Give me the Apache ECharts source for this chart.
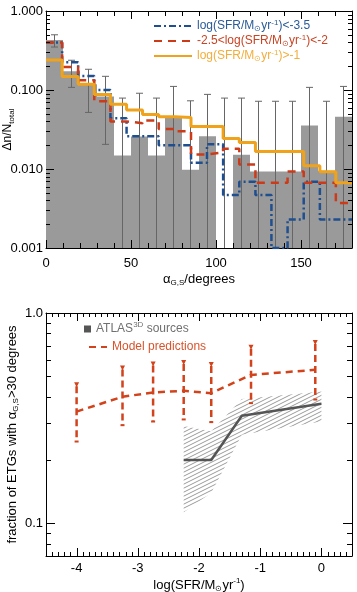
<!DOCTYPE html>
<html>
<head>
<meta charset="utf-8">
<script src="https://cdn.jsdelivr.net/npm/echarts@6/dist/echarts.min.js"></script>
<style>
html, body { margin: 0; padding: 0; background: #fff; }
#main { width: 357px; height: 592px; }
</style>
</head>
<body>
<div id="main"></div>
<script>
// ---- top panel: distribution of misalignment angle ----
var binStart = [0, 10, 20, 30, 40, 50, 60, 70, 80, 90, 100, 110, 120, 130, 140, 150, 160, 170];
var binWidth = 10;
var grayFrac = [0.43, 0.173, 0.118, 0.083, 0.0148, 0.0258, 0.0148, 0.046, 0.0098, 0.026, 0, 0.0152, 0.0093, 0.0093, 0.0093, 0.0356, 0.0095, 0.046];
var errCenter = [5, 15, 25, 35, 45, 55, 65, 75, 85, 95, 105, 115, 125, 135, 145, 155, 165, 175];
var errHi = [0.50, 0.238, 0.183, 0.149, 0.079, 0.091, 0.079, 0.111, 0.073, 0.088, 0.079, 0.079, 0.072, 0.072, 0.072, 0.108, 0.072, 0.111];
var errLo = [0.35, 0.108, 0.052, 0.0205, 0.001, 0.001, 0.001, 0.001, 0.001, 0.001, 0.001, 0.001, 0.001, 0.001, 0.001, 0.001, 0.001, 0.001];

// model histograms (19 bins over 0-180)
var lineEdges = [0, 9.5, 18.9, 28.4, 37.9, 47.4, 56.8, 66.3, 75.8, 85.3, 94.7, 104.2, 113.7, 123.2, 132.6, 142.1, 151.6, 161.1, 170.5, 180];
var lowSfr = [0.40, 0.225, 0.15, 0.10, 0.044, 0.026, 0.026, 0.020, 0.020, 0.012, 0.0205, 0.0047, 0.0069, 0.0047, 0.001, 0.0023, 0.0069, 0.0023, 0.0023];
var midSfr = [0.40, 0.195, 0.133, 0.072, 0.040, 0.038, 0.041, 0.032, 0.030, 0.0153, 0.0162, 0.018, 0.0114, 0.0067, 0.0067, 0.0093, 0.0067, 0.0067, 0.0037];
var highSfr = [0.24, 0.148, 0.118, 0.088, 0.066, 0.056, 0.049, 0.046, 0.045, 0.0346, 0.0346, 0.0243, 0.0216, 0.0167, 0.0167, 0.0167, 0.011, 0.0092, 0.0067];

// ---- bottom panel: misaligned fraction vs SFR ----
var sfrModel = [-4, -3.25, -2.75, -2.25, -1.8, -1.15, -0.1];
var fracModel = [0.34, 0.40, 0.419, 0.427, 0.416, 0.508, 0.537];
var fracModelHi = [0.464, 0.557, 0.581, 0.592, 0.578, 0.698, 0.737];
var fracModelLo = [0.245, 0.293, 0.305, 0.312, 0.303, 0.373, 0.388];
var sfrAtlas = [-2.25, -1.8, -1.3, 0];
var fracAtlas = [0.2, 0.2, 0.325, 0.37];
var fracAtlasHi = [0.29, 0.274, 0.39, 0.424];
var fracAtlasLo = [0.113, 0.14, 0.264, 0.305];

// tick positions
var topXMajor = [0, 50, 100, 150];
var topYMajor = [0.001, 0.01, 0.1, 1];
var botXMajor = [-4, -3, -2, -1, 0];
var botYMajor = [0.1, 1];

var FONT = "'Liberation Sans', Arial, sans-serif";
var BLUE = '#1f4f8f', RED = '#cc3a18', ORANGE = '#f0a31a', MRED = '#d2421b';

function stepData(vals) {
	var d = [];
	for (var i = 0; i < vals.length; i++) d.push([lineEdges[i], vals[i]]);
	d.push([lineEdges[vals.length], vals[vals.length - 1]]);
	return d;
}

// minor ticks: linear steps between majors, or 2..9 inside each decade
function linMinor(major, step, lo, hi) {
	var out = [];
	for (var v = lo; v <= hi + 1e-9; v += step) {
		var r = Math.round(v * 1000) / 1000;
		if (major.indexOf(r) < 0 && r > lo && r < hi) out.push(r);
	}
	return out;
}
function logMinor(lo, hi) {
	var out = [];
	for (var d = Math.pow(10, Math.floor(Math.log10(lo))); d < hi; d *= 10) {
		for (var k = 2; k <= 9; k++) {
			var v = +(d * k).toPrecision(3);
			if (v > lo && v < hi) out.push(v);
		}
	}
	return out;
}

var rich = {
	sub: { fontSize: 8, fontFamily: FONT, verticalAlign: 'bottom', lineHeight: 8 },
	sup: { fontSize: 8, fontFamily: FONT, verticalAlign: 'top', lineHeight: 8 }
};
function txt(size, color, lh) {
	return { fontSize: size, fontFamily: FONT, color: color, lineHeight: lh || 16, rich: rich };
}

// hatch pattern for the ATLAS3D range
var hatch = document.createElement('canvas');
hatch.width = 8; hatch.height = 4;
var hc = hatch.getContext('2d');
hc.strokeStyle = '#9a9a9a';
hc.lineWidth = 1;
for (var a = -1; a <= 1; a++) {
	hc.beginPath();
	hc.moveTo(0, 4 + 4 * a);
	hc.lineTo(8, 0 + 4 * a);
	hc.stroke();
}

function axisBase(show) {
	return {
		axisLine: { show: true, onZero: false, lineStyle: { color: '#000', width: 1 } },
		axisTick: { show: false },
		minorTick: { show: false },
		splitLine: { show: false },
		nameMoveOverlap: false,
		axisLabel: { show: show, color: '#000', fontSize: 13, fontFamily: FONT }
	};
}
function mk(base, extra) {
	for (var k in extra) {
		if (typeof extra[k] === 'object' && base[k] && !Array.isArray(extra[k])) {
			for (var j in extra[k]) base[k][j] = extra[k][j];
		} else base[k] = extra[k];
	}
	return base;
}

// inward ticks on all four sides of a frame, placed through the axis scales
function tickSeries(axisIdx, xr, yr, xMaj, xMin, yMaj, yMin, len) {
	var data = [];
	xMaj.forEach(function (v) { data.push([v, yr[0], 0, len[0]]); });
	xMin.forEach(function (v) { data.push([v, yr[0], 0, len[1]]); });
	yMaj.forEach(function (v) { data.push([xr[0], v, 1, len[2]]); });
	yMin.forEach(function (v) { data.push([xr[0], v, 1, len[3]]); });
	return {
		type: 'custom', xAxisIndex: axisIdx, yAxisIndex: axisIdx, silent: true, z: 10,
		data: data,
		renderItem: function (params, api) {
			var st = { stroke: '#000', lineWidth: 1 };
			var l = api.value(3), p, q, c;
			if (api.value(2) === 0) {
				p = api.coord([api.value(0), yr[0]]);
				q = api.coord([api.value(0), yr[1]]);
				c = Math.round(p[0]) + 0.5;
				return { type: 'group', children: [
					{ type: 'line', shape: { x1: c, y1: p[1], x2: c, y2: p[1] - l }, style: st },
					{ type: 'line', shape: { x1: c, y1: q[1], x2: c, y2: q[1] + l }, style: st }
				] };
			}
			p = api.coord([xr[0], api.value(1)]);
			q = api.coord([xr[1], api.value(1)]);
			c = Math.round(p[1]) + 0.5;
			return { type: 'group', children: [
				{ type: 'line', shape: { x1: p[0], y1: c, x2: p[0] + l, y2: c }, style: st },
				{ type: 'line', shape: { x1: q[0], y1: c, x2: q[0] - l, y2: c }, style: st }
			] };
		}
	};
}

var myChart = echarts.init(document.getElementById('main'));

var option = {
	animation: false,
	backgroundColor: '#fff',
	grid: [
		{ left: 46, right: 5, top: 11, height: 237, outerBoundsMode: 'none' },
		{ left: 46, right: 5, top: 313, height: 243, outerBoundsMode: 'none' }
	],
	xAxis: [
		mk(axisBase(true), { type: 'value', gridIndex: 0, min: 0, max: 180, interval: 50, position: 'bottom',
			axisLabel: { margin: 9, showMaxLabel: false },
			name: 'α{sub|G,S}/degrees', nameLocation: 'middle', nameGap: 23, nameTextStyle: txt(13, '#000') }),
		mk(axisBase(false), { type: 'value', gridIndex: 0, min: 0, max: 180, interval: 50, position: 'top' }),
		mk(axisBase(true), { type: 'value', gridIndex: 1, min: -4.5, max: 0.5, splitNumber: 5, position: 'bottom',
			axisLabel: { margin: 6, formatter: function (v) { return Math.abs(v - Math.round(v)) < 1e-6 ? String(Math.round(v)) : ''; } },
			name: 'log(SFR/M{sub|⊙}yr{sup|-1})', nameLocation: 'middle', nameGap: 21, nameTextStyle: txt(13, '#000') }),
		mk(axisBase(false), { type: 'value', gridIndex: 1, min: -4.5, max: 0.5, splitNumber: 5, position: 'top' })
	],
	yAxis: [
		mk(axisBase(true), { type: 'log', logBase: 10, gridIndex: 0, min: 0.001, max: 1, position: 'left',
			axisLabel: { margin: 3, formatter: function (v) { return v.toFixed(3); } },
			name: 'Δn/N{sub|total}', nameLocation: 'middle', nameGap: 30, nameRotate: 90, nameTextStyle: txt(12, '#000') }),
		mk(axisBase(false), { type: 'log', logBase: 10, gridIndex: 0, min: 0.001, max: 1, position: 'right' }),
		mk(axisBase(true), { type: 'log', logBase: 10, gridIndex: 1, min: 0.07, max: 1, position: 'left',
			axisLabel: { margin: 3, formatter: function (v) {
				if (Math.abs(v - 1) < 1e-6) return '1.0';
				if (Math.abs(v - 0.1) < 1e-6) return '0.1';
				return '';
			} },
			name: 'fraction of ETGs with α{sub|G,S}>30 degrees', nameLocation: 'middle', nameGap: 26, nameRotate: 90, nameTextStyle: txt(13, '#000') }),
		mk(axisBase(false), { type: 'log', logBase: 10, gridIndex: 1, min: 0.07, max: 1, position: 'right' })
	],
	legend: [
		{
			left: 153, top: 19, padding: 0, orient: 'vertical', itemWidth: 38, itemHeight: 12, itemGap: 1,
			textStyle: txt(12, '#000', 14),
			itemStyle: { opacity: 0 },
			formatter: function (n) {
				return {
					lo: 'log(SFR/M{sub|⊙}yr{sup|-1})<-3.5',
					mid: '-2.5<log(SFR/M{sub|⊙}yr{sup|-1})<-2',
					hi: 'log(SFR/M{sub|⊙}yr{sup|-1})>-1'
				}[n];
			},
			data: [
				{ name: 'lo', textStyle: { color: '#2b5b96' } },
				{ name: 'mid', textStyle: { color: '#c84424' } },
				{ name: 'hi', textStyle: { color: '#f2ae3c' } }
			]
		},
		{
			left: 84, top: 321, padding: 0, itemWidth: 7, itemHeight: 7,
			textStyle: txt(12, '#707070'),
			formatter: function () { return 'ATLAS{sup|3D} sources'; },
			data: [{ name: 'atlas', icon: 'rect', itemStyle: { color: '#555', opacity: 1 } }]
		},
		{
			left: 88, top: 339, padding: 0, itemWidth: 18, itemHeight: 10,
			textStyle: txt(12, '#d9532b'),
			itemStyle: { opacity: 0 },
			formatter: function () { return 'Model predictions'; },
			data: [{ name: 'model' }]
		}
	],
	series: [
		{
			type: 'custom', xAxisIndex: 0, yAxisIndex: 0, silent: true,
			data: binStart.map(function (s, i) { return [s, grayFrac[i]]; }),
			renderItem: function (params, api) {
				var s = api.value(0), v = api.value(1);
				if (!(v > 0)) return null;
				var p0 = api.coord([s, v]);
				var p1 = api.coord([s + binWidth, 0.001]);
				return { type: 'rect', shape: { x: p0[0], y: p0[1], width: p1[0] - p0[0], height: p1[1] - p0[1] },
					style: { fill: '#9a9a9a' } };
			}
		},
		{
			type: 'custom', xAxisIndex: 0, yAxisIndex: 0, silent: true,
			data: errCenter.map(function (c, i) { return [c, errLo[i], errHi[i]]; }),
			renderItem: function (params, api) {
				var x = api.value(0), lo = api.value(1), hi = api.value(2);
				var t = api.coord([x, hi]), b = api.coord([x, lo]);
				var st = { stroke: '#666', lineWidth: 1 };
				var ch = [
					{ type: 'line', shape: { x1: t[0], y1: t[1], x2: b[0], y2: b[1] }, style: st },
					{ type: 'line', shape: { x1: t[0] - 3.5, y1: t[1], x2: t[0] + 3.5, y2: t[1] }, style: st }
				];
				if (lo > 0.001) ch.push({ type: 'line', shape: { x1: b[0] - 3.5, y1: b[1], x2: b[0] + 3.5, y2: b[1] }, style: st });
				return { type: 'group', children: ch };
			}
		},
		{
			name: 'lo', type: 'line', step: 'end', xAxisIndex: 0, yAxisIndex: 0, symbol: 'none', showSymbol: false,
			data: stepData(lowSfr), color: BLUE,
			lineStyle: { color: BLUE, width: 2.5, type: [7, 3, 2, 3] }
		},
		{
			name: 'mid', type: 'line', step: 'end', xAxisIndex: 0, yAxisIndex: 0, symbol: 'none', showSymbol: false,
			data: stepData(midSfr), color: RED,
			lineStyle: { color: RED, width: 2.5, type: [8, 6] }
		},
		{
			name: 'hi', type: 'line', step: 'end', xAxisIndex: 0, yAxisIndex: 0, symbol: 'none', showSymbol: false,
			data: stepData(highSfr), color: ORANGE,
			lineStyle: { color: ORANGE, width: 3 }
		},
		tickSeries(0, [0, 180], [0.001, 1], topXMajor, linMinor(topXMajor, 10, 0, 180),
			topYMajor, logMinor(0.001, 1), [8, 5, 8, 4]),
		{
			type: 'custom', xAxisIndex: 2, yAxisIndex: 2, silent: true,
			data: sfrAtlas.map(function (x, i) { return [x, fracAtlasLo[i], fracAtlasHi[i]]; }),
			renderItem: function (params, api) {
				if (params.dataIndex !== 0) return null;
				var pts = [], i;
				for (i = 0; i < sfrAtlas.length; i++) pts.push(api.coord([sfrAtlas[i], fracAtlasHi[i]]));
				for (i = sfrAtlas.length - 1; i >= 0; i--) pts.push(api.coord([sfrAtlas[i], fracAtlasLo[i]]));
				return { type: 'polygon', shape: { points: pts },
					style: { fill: { type: 'pattern', image: hatch, repeat: 'repeat' } } };
			}
		},
		{
			name: 'atlas', type: 'line', xAxisIndex: 2, yAxisIndex: 2, symbol: 'none', showSymbol: false,
			data: sfrAtlas.map(function (x, i) { return [x, fracAtlas[i]]; }), color: '#555',
			lineStyle: { color: '#555', width: 2.5 }
		},
		{
			type: 'custom', xAxisIndex: 2, yAxisIndex: 2, silent: true,
			data: sfrModel.map(function (x, i) { return [x, fracModelLo[i], fracModelHi[i]]; }),
			renderItem: function (params, api) {
				var x = api.value(0), lo = api.value(1), hi = api.value(2);
				var t = api.coord([x, hi]), b = api.coord([x, lo]);
				return { type: 'group', children: [
					{ type: 'line', shape: { x1: t[0], y1: t[1] + 3, x2: b[0], y2: b[1] },
						style: { stroke: MRED, lineWidth: 2.5, lineDash: [7, 4] } },
					{ type: 'polygon', shape: { points: [[t[0] - 2.5, t[1] - 1], [t[0] + 2.5, t[1] - 1], [t[0], t[1] + 4]] },
						style: { fill: MRED } },
					{ type: 'line', shape: { x1: b[0] - 2, y1: b[1], x2: b[0] + 2, y2: b[1] },
						style: { stroke: MRED, lineWidth: 2 } }
				] };
			}
		},
		{
			name: 'model', type: 'line', xAxisIndex: 2, yAxisIndex: 2, symbol: 'none', showSymbol: false,
			data: sfrModel.map(function (x, i) { return [x, fracModel[i]]; }), color: MRED,
			lineStyle: { color: MRED, width: 2.5, type: [7, 5] }
		},
		tickSeries(2, [-4.5, 0.5], [0.07, 1], botXMajor, linMinor(botXMajor, 0.1, -4.5, 0.5),
			botYMajor, logMinor(0.07, 1), [8, 4, 9, 5])
	]
};

myChart.setOption(option);

window.onresize = function () {
	myChart.resize();
};
</script>
</body>
</html>
